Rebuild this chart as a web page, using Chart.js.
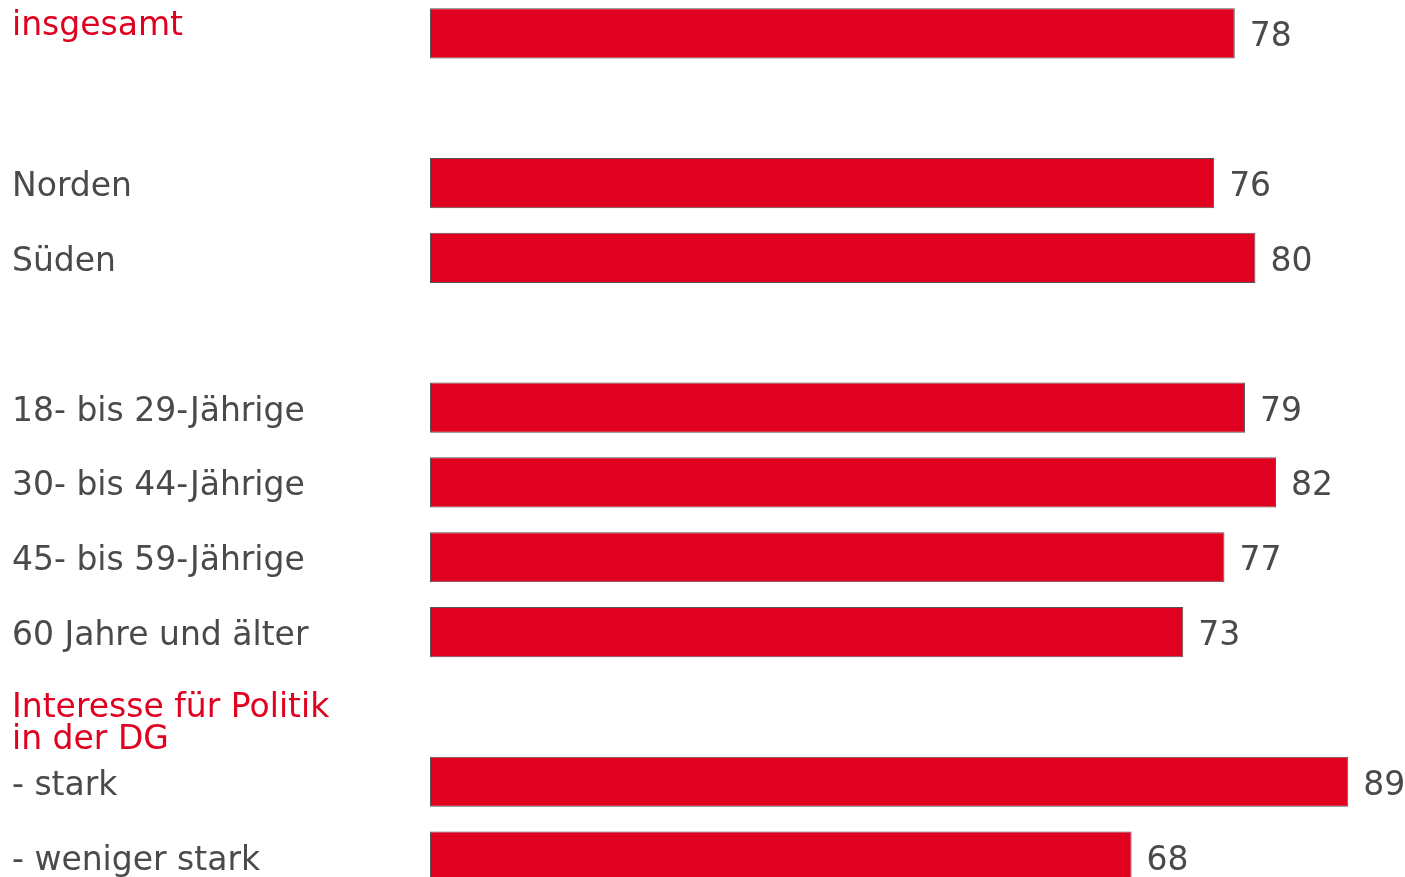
<!DOCTYPE html>
<html>
<head>
<meta charset="utf-8">
<script src="https://cdn.jsdelivr.net/npm/chart.js@4"></script>
<style>
  html, body { margin: 0; padding: 0; background: #fff; overflow: hidden; }
  #wrap { position: relative; width: 1405px; height: 877px; overflow: hidden; }
  #box { position: absolute; left: 0; top: -4px; width: 1405px; height: 898px; }
</style>
</head>
<body>
<div id="wrap"><div id="box"><canvas id="chart"></canvas></div></div>
<script>
// categories (empty strings are spacer rows)
const categories = [
    'insgesamt',
    '',
    'Norden',
    'Süden',
    '',
    '18- bis 29-Jährige',
    '30- bis 44-Jährige',
    '45- bis 59-Jährige',
    '60 Jahre und älter',
    ['Interesse für Politik', 'in der DG'],
    '- stark',
    '- weniger stark'
];
const values = [78, null, 76, 80, null, 79, 82, 77, 73, null, 89, 68];
const headingRows = [0, 9];

const RED = '#e00020';
const GREY = '#4a4a4a';
const FONT = '33px "DejaVu Sans", Verdana, sans-serif';

// baseline shift (px from row centre) for the labels that sit off-centre
const labelShift = { 0: -11, 9: -3 };

const labelsPlugin = {
    id: 'rowLabels',
    afterDatasetsDraw(chart) {
        const ctx = chart.ctx;
        const y = chart.scales.y;
        const meta = chart.getDatasetMeta(0);
        ctx.save();
        ctx.font = FONT;
        ctx.textBaseline = 'alphabetic';
        ctx.textAlign = 'left';
        categories.forEach((cat, i) => {
            const cy = y.getPixelForValue(i);
            ctx.fillStyle = headingRows.includes(i) ? RED : GREY;
            const lines = Array.isArray(cat) ? cat : [cat];
            const base = cy + 13 + (labelShift[i] || 0);
            lines.forEach((t, k) => ctx.fillText(t, 12, base + k * 32));
            if (values[i] != null) {
                const bar = meta.data[i];
                ctx.fillStyle = GREY;
                ctx.fillText(String(values[i]), bar.x + 15, cy + 13);
            }
        });
        ctx.restore();
    }
};

new Chart(document.getElementById('chart'), {
    type: 'bar',
    data: {
        labels: categories,
        datasets: [{
            data: values,
            backgroundColor: RED,
            borderColor: '#555555',
            borderWidth: 1,
            borderSkipped: false,
            barPercentage: 0.67,
            categoryPercentage: 1
        }]
    },
    options: {
        indexAxis: 'y',
        responsive: true,
        maintainAspectRatio: false,
        animation: false,
        layout: { padding: { left: 430, right: 0, top: 0, bottom: 0 } },
        plugins: { legend: { display: false }, tooltip: { enabled: false } },
        scales: {
            x: { display: false, min: 0, max: 94.5 },
            y: { display: false }
        }
    },
    plugins: [labelsPlugin]
});
</script>
</body>
</html>
